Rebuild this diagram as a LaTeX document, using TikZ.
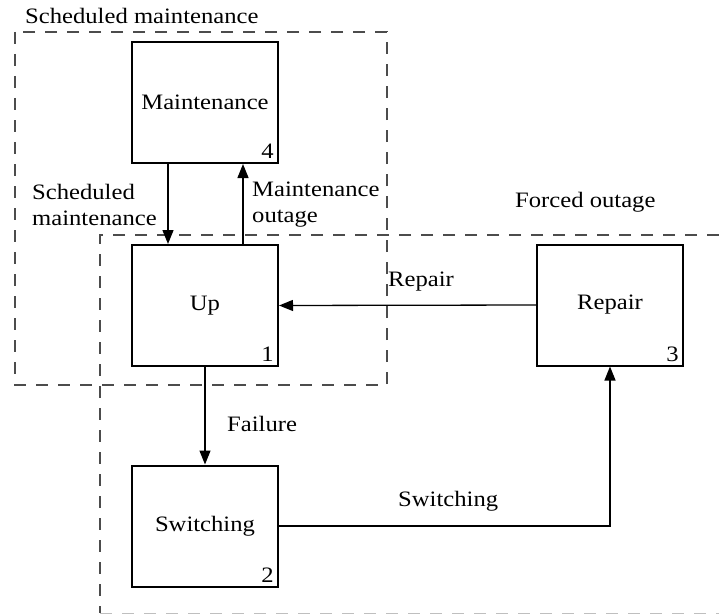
\documentclass[tikz,border=0pt]{standalone}
\usepackage{fontspec}
\setmainfont{Liberation Serif}[FakeStretch=1.12]
\usetikzlibrary{arrows.meta}
\begin{document}
\begin{tikzpicture}[x=1pt,y=-1pt,
  every node/.style={font=\fontsize{22}{26}\selectfont},
  statebox/.style={draw=black,line width=2pt,minimum width=146pt,minimum height=121pt,inner sep=0pt},
  numlabel/.style={anchor=south east,inner sep=0pt},
  conn/.style={line width=1.3pt,-{Triangle[length=14pt,width=11pt]}},
  grp/.style={draw=black!70,line width=1.2pt,dash pattern=on 12pt off 10pt},
  txt/.style={inner sep=0pt,align=left}]
\useasboundingbox (0,0) rectangle (719,615);
% group frames
\draw[grp] (15,32) rectangle (387,385);
\draw[grp] (719,235) -- (100,235) -- (100,613);
\draw[grp,draw=black!25] (100,613.5) -- (719,613.5);
% states
\node[statebox] (m) at (205,102.5) {Maintenance};
\node[numlabel] at ([xshift=-5pt,yshift=5pt]m.south east) {4};
\node[statebox] (up) at (205,305.5) {Up};
\node[numlabel] at ([xshift=-5pt,yshift=5pt]up.south east) {1};
\node[statebox] (rep) at (610,305) {Repair};
\node[numlabel] at ([xshift=-5pt,yshift=5pt]rep.south east) {3};
\node[statebox] (sw) at (205,526) {Switching};
\node[numlabel] at ([xshift=-5pt,yshift=5pt]sw.south east) {2};
% connectors
\draw[conn] ([xshift=-37pt]m.south) -- ([xshift=-37pt]up.north);
\draw[conn] ([xshift=38pt]up.north) -- ([xshift=38pt]m.south);
\draw[conn] (rep.west) -- (up.east);
\draw[conn] (up.south) -- (sw.north);
\draw[conn] (sw.east) -| (rep.south);
% labels
\node[txt,anchor=west] (lsm) at (25,16) {Scheduled maintenance};
\node[txt,anchor=west] (lfo) at (515,202) {Forced outage};
\node[txt,anchor=west] (lsch) at (32,204.5) {Scheduled\\maintenance};
\node[txt,anchor=west] (lmo) at (252,204.5) {Maintenance\\outage};
\node[txt,anchor=west] (lrep) at (388,282) {Repair};
\node[txt,anchor=west] (lfail) at (227,424) {Failure};
\node[txt,anchor=west] (lsw) at (398,501) {Switching};
\end{tikzpicture}
\end{document}
